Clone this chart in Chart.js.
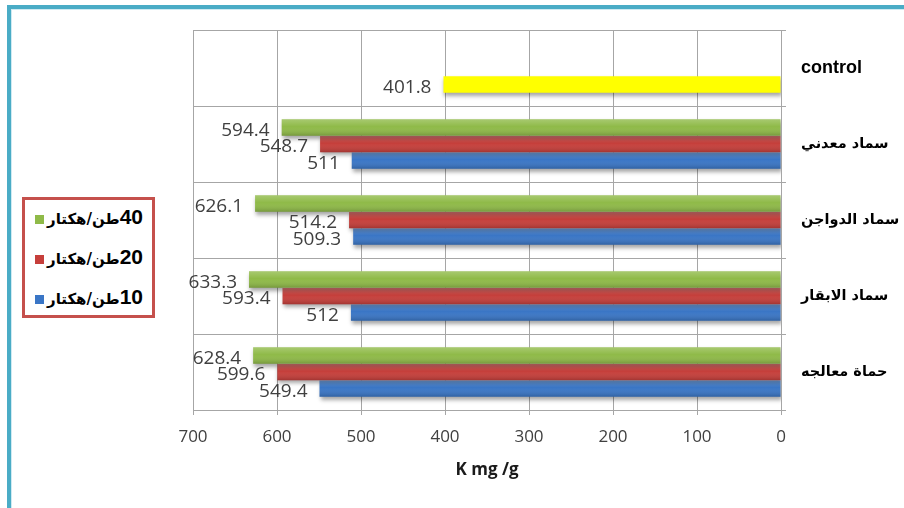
<!DOCTYPE html>
<html lang="ar">
<head>
  <meta charset="UTF-8">
  <title>K mg/g</title>
  <script src="https://cdn.jsdelivr.net/npm/chart.js"></script>
  <style>
    body {
      margin: 0;
      background: #fff;
      font-family: "Liberation Sans", "DejaVu Sans", sans-serif;
      overflow: hidden;
    }
    .wrap {
      position: relative;
      width: 904px;
      height: 508px;
      overflow: hidden;
    }
    .frame {
      position: absolute;
      left: 7px;
      top: 5px;
      width: 897px;
      height: 503px;
      border-left: 4px solid #4aacc6;
      border-top: 4px solid #4aacc6;
      box-sizing: border-box;
    }
    .frame-inner {
      position: absolute;
      left: 0;
      top: 0;
      right: 0;
      bottom: 0;
      border-left: 1px solid #cfeaf2;
      border-top: 1px solid #cfeaf2;
    }
    canvas {
      position: absolute;
      left: 0;
      top: 0;
    }
    .legend {
      position: absolute;
      left: 22px;
      top: 197px;
      width: 127px;
      height: 115px;
      border: 3px solid #c5504c;
      background: #fff;
    }
    .item {
      position: absolute;
      left: 10px;
      display: flex;
      align-items: center;
      font-weight: bold;
      color: #000;
      height: 24px;
    }
    .item .sw {
      width: 9px;
      height: 9px;
      margin-right: 3px;
      margin-top: 5px;
    }
    .item .num {
      font-family: "Liberation Sans", sans-serif;
      font-size: 21px;
    }
    .item .ar {
      font-family: "DejaVu Sans", sans-serif;
      font-size: 15px;
    }
  </style>
</head>
<body>
  <div class="wrap">
    <div class="frame"><div class="frame-inner"></div></div>
    <canvas id="chart" width="904" height="508"></canvas>
    <div class="legend" id="legend"></div>
  </div>

  <script>
    const categories = ['control', 'سماد معدني', 'سماد الدواجن', 'سماد الابقار', 'حماة معالجه'];
    const seriesNums = ['40', '20', '10'];
    const seriesUnit = 'طن/هكتار';
    const t40 = [null, 594.4, 626.1, 633.3, 628.4];
    const t20 = [null, 548.7, 514.2, 593.4, 599.6];
    const t10 = [401.8, 511, 509.3, 512, 549.4];
    const xTicks = [0, 100, 200, 300, 400, 500, 600, 700];

    const green = '#8fba48';
    const red = '#c63f3b';
    const blue = '#3a76c6';
    const yellow = '#ffff00';

    // yellow for the control bar, blue for the rest
    const blueColors = categories.map((c, i) => i === 0 ? yellow : blue);

    // legend (box on the left, as in the original)
    const legendColors = [green, red, blue];
    const legendTops = [5, 45, 85];
    const legendEl = document.getElementById('legend');
    seriesNums.forEach((n, i) => {
      const row = document.createElement('div');
      row.className = 'item';
      row.style.top = legendTops[i] + 'px';
      row.innerHTML = '<span class="sw" style="background:' + legendColors[i] + '"></span>' +
        '<span dir="rtl"><span class="num">' + n + '</span><span class="ar">' + seriesUnit + '</span></span>';
      legendEl.appendChild(row);
    });

    const shadowPlugin = {
      id: 'barShadow',
      beforeDatasetsDraw(chart) {
        const ctx = chart.ctx;
        ctx.save();
        ctx.shadowColor = 'rgba(0,0,0,0.35)';
        ctx.shadowBlur = 4;
        ctx.shadowOffsetX = 1;
        ctx.shadowOffsetY = 3;
      },
      afterDatasetsDraw(chart) {
        const ctx = chart.ctx;
        ctx.restore();
        // soft shading on the coloured bars
        chart.data.datasets.forEach((ds, di) => {
          const meta = chart.getDatasetMeta(di);
          meta.data.forEach((bar, j) => {
            if (ds.data[j] == null) return;
            if (di === 2 && j === 0) return;
            const top = bar.y - bar.height / 2;
            const left = Math.min(bar.x, bar.base);
            const w = Math.abs(bar.base - bar.x);
            const g = ctx.createLinearGradient(0, top, 0, top + bar.height);
            g.addColorStop(0, 'rgba(255,255,255,0.22)');
            g.addColorStop(0.45, 'rgba(255,255,255,0)');
            g.addColorStop(1, 'rgba(0,0,0,0.18)');
            ctx.fillStyle = g;
            ctx.fillRect(left, top, w, bar.height);
          });
        });
      }
    };

    const labelPlugin = {
      id: 'valueLabels',
      afterDatasetsDraw(chart) {
        const ctx = chart.ctx;
        ctx.save();
        ctx.font = '19px "Open Sans"';
        ctx.fillStyle = '#404040';
        ctx.textAlign = 'right';
        ctx.textBaseline = 'middle';
        chart.data.datasets.forEach((ds, di) => {
          const meta = chart.getDatasetMeta(di);
          meta.data.forEach((bar, j) => {
            const v = ds.data[j];
            if (v == null) return;
            ctx.fillText(String(v), bar.x - 12, bar.y + 3);
          });
        });
        ctx.restore();
      }
    };

    new Chart(document.getElementById('chart').getContext('2d'), {
      type: 'bar',
      data: {
        labels: categories,
        datasets: [
          { label: '40' + seriesUnit, data: t40, backgroundColor: green },
          { label: '20' + seriesUnit, data: t20, backgroundColor: red },
          { label: '10' + seriesUnit, data: t10, backgroundColor: blueColors }
        ]
      },
      options: {
        indexAxis: 'y',
        responsive: false,
        animation: false,
        barPercentage: 1,
        categoryPercentage: 0.65,
        layout: { padding: { left: 193, top: 30, right: 0, bottom: 28 } },
        plugins: {
          legend: { display: false },
          tooltip: { enabled: false }
        },
        scales: {
          x: {
            reverse: true,
            min: 0,
            max: 700,
            afterBuildTicks(scale) {
              scale.ticks = xTicks.map(v => ({ value: v }));
            },
            grid: { color: '#a6a6a6', tickLength: 5 },
            border: { display: false },
            ticks: {
              padding: 12,
              color: '#404040',
              font: { family: 'Open Sans', size: 17 }
            },
            title: {
              display: true,
              text: 'K mg /g',
              color: '#1a1a1a',
              padding: { top: 5, bottom: 0 },
              font: { family: 'Open Sans', size: 17, weight: 'bold' }
            },
            afterFit(scale) { scale.height = 70; }
          },
          y: {
            position: 'right',
            grid: { color: '#a6a6a6', tickLength: 5, offset: true },
            border: { display: false },
            ticks: {
              crossAlign: 'near',
              padding: 15,
              color: '#000',
              font: (ctx) => ctx.index === 0
                ? { family: 'Liberation Sans', size: 18, weight: 'bold' }
                : { family: 'DejaVu Sans', size: 14.5, weight: 'bold' }
            },
            afterFit(scale) { scale.width = 123; }
          }
        }
      },
      plugins: [shadowPlugin, labelPlugin]
    });
  </script>
</body>
</html>
